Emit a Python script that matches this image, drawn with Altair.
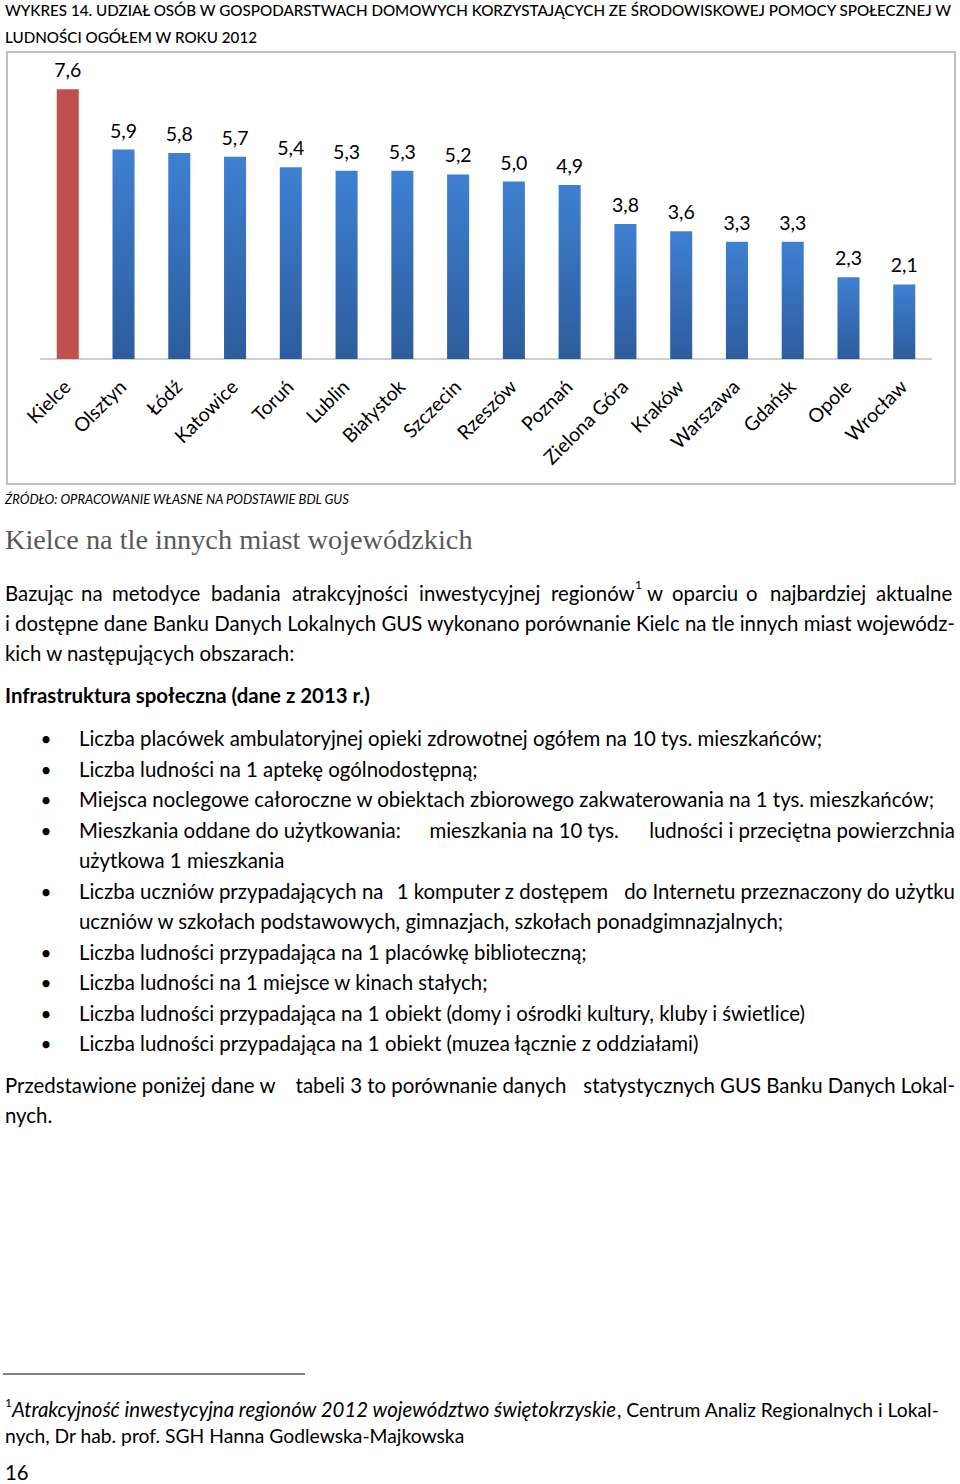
import altair as alt
import pandas as pd

# ---------------- data ----------------
cities = ["Kielce", "Olsztyn", "Łódź", "Katowice", "Toruń", "Lublin", "Białystok",
          "Szczecin", "Rzeszów", "Poznań", "Zielona Góra", "Kraków", "Warszawa",
          "Gdańsk", "Opole", "Wrocław"]
values = [7.6, 5.9, 5.8, 5.7, 5.4, 5.3, 5.3, 5.2, 5.0, 4.9, 3.8, 3.6, 3.3, 3.3, 2.3, 2.1]
highlight = ["Kielce"]

title_lines = [
    "WYKRES 14. UDZIAŁ OSÓB W GOSPODARSTWACH DOMOWYCH KORZYSTAJĄCYCH ZE ŚRODOWISKOWEJ POMOCY SPOŁECZNEJ W",
    "LUDNOŚCI OGÓŁEM W ROKU 2012",
]
source_text = "ŹRÓDŁO: OPRACOWANIE WŁASNE NA PODSTAWIE BDL GUS"
heading_text = "Kielce na tle innych miast wojewódzkich"
para1_first = "Bazując na metodyce badania atrakcyjności inwestycyjnej regionów w oparciu o najbardziej aktualne"
para1_rest = [
    "i dostępne dane Banku Danych Lokalnych GUS wykonano porównanie Kielc na tle innych miast wojewódz-",
    "kich w następujących obszarach:",
]
bold_heading = "Infrastruktura społeczna (dane z 2013 r.)"
bullets = [
    ["Liczba placówek ambulatoryjnej opieki zdrowotnej ogółem na 10 tys. mieszkańców;"],
    ["Liczba ludności na 1 aptekę ogólnodostępną;"],
    ["Miejsca noclegowe całoroczne w obiektach zbiorowego zakwaterowania na 1 tys. mieszkańców;"],
    ["Mieszkania oddane do użytkowania: mieszkania na 10 tys. ludności i przeciętna powierzchnia",
     "użytkowa 1 mieszkania"],
    ["Liczba uczniów przypadających na 1 komputer z dostępem do Internetu przeznaczony do użytku",
     "uczniów w szkołach podstawowych, gimnazjach, szkołach ponadgimnazjalnych;"],
    ["Liczba ludności przypadająca na 1 placówkę biblioteczną;"],
    ["Liczba ludności na 1 miejsce w kinach stałych;"],
    ["Liczba ludności przypadająca na 1 obiekt (domy i ośrodki kultury, kluby i świetlice)"],
    ["Liczba ludności przypadająca na 1 obiekt (muzea łącznie z oddziałami)"],
]
para2 = [
    "Przedstawione poniżej dane w tabeli 3 to porównanie danych statystycznych GUS Banku Danych Lokal-",
    "nych.",
]
footnote_italic = "Atrakcyjność inwestycyjna regionów 2012 województwo świętokrzyskie"
footnote_regular = ", Centrum Analiz Regionalnych i Lokal-"
footnote_line2 = "nych, Dr hab. prof. SGH Hanna Godlewska-Majkowska"
page_number = "16"

# ---------------- layout ----------------
# word starts of the strongly stretched first line
PARA1_WORD_X = [5, 81, 112, 211, 292, 419, 551, 647, 672, 746, 770, 876]
# lines justified to the right margin (split into three pieces), with a nudge
# for the middle piece
JUSTIFIED = {bullets[3][0]: 12, bullets[4][0]: 0, para2[0]: 0}
RIGHT = 955

# ---------------- chart ----------------
df = pd.DataFrame({
    "city": cities,
    "value": values,
    "label": [f"{v:.1f}".replace(".", ",") for v in values],
})

BODY = "Lato"
BODY_SIZE = 20.4
xenc = alt.X("city:N", sort=cities, axis=None,
             scale=alt.Scale(range=[40, 932], paddingInner=0.605, paddingOuter=0.3))
yenc = alt.Y("value:Q", axis=None, scale=alt.Scale(domain=[0, 8], range=[359, 75]))

base = alt.Chart(df)

blue_grad = {
    "gradient": "linear", "x1": 0, "y1": 0, "x2": 0, "y2": 1,
    "stops": [{"offset": 0, "color": "#3E80D2"}, {"offset": 1, "color": "#2D5C9C"}],
}

bars_blue = base.transform_filter(
    alt.FieldOneOfPredicate(field="city", oneOf=cities[1:])
).mark_bar(color=blue_grad).encode(x=xenc, y=yenc)
bars_red = base.transform_filter(
    alt.FieldOneOfPredicate(field="city", oneOf=highlight)
).mark_bar(color="#C0504D").encode(x=xenc, y=yenc)

value_labels = base.mark_text(font=BODY, fontSize=19.5, baseline="alphabetic", dy=-12,
                              color="#000000").encode(x=xenc, y=yenc, text="label:N")

city_labels = base.mark_text(font=BODY, fontSize=19.5, angle=315, align="right",
                             baseline="middle", color="#000000").encode(
    x=xenc, y=alt.value(384), text="city:N")

frame = alt.Chart(pd.DataFrame({"a": [0]})).mark_rect(
    fill="transparent", stroke="#BFBFBF", strokeWidth=2).encode(
    x=alt.value(7), x2=alt.value(955), y=alt.value(52), y2=alt.value(484))

baseline_rule = alt.Chart(pd.DataFrame({"a": [0]})).mark_rule(
    color="#BFBFBF", strokeWidth=1.5).encode(
    x=alt.value(40), x2=alt.value(932), y=alt.value(359))

footnote_rule = alt.Chart(pd.DataFrame({"a": [0]})).mark_rule(
    color="#000000", strokeWidth=1).encode(
    x=alt.value(3), x2=alt.value(305), y=alt.value(1374))


def txt(s, x, y, size=BODY_SIZE, font=BODY, weight="normal", style="normal",
        color="#000000", align="left"):
    return alt.Chart(pd.DataFrame({"t": [s]})).mark_text(
        font=font, fontSize=size, fontWeight=weight, fontStyle=style,
        color=color, align=align, baseline="middle").encode(
        text="t:N", x=alt.value(x), y=alt.value(y))


def line(s, x0, y):
    if s not in JUSTIFIED:
        return [txt(s, x0, y)]
    words = s.split(" ")
    n = len(words)
    a, b = n // 3, 2 * n // 3
    left = " ".join(words[:a])
    mid = " ".join(words[a:b])
    right = " ".join(words[b:])
    frac = (len(left) + 1 + len(mid) / 2) / len(s)
    return [txt(left, x0, y),
            txt(mid, x0 + (RIGHT - x0) * frac + JUSTIFIED[s], y, align="center"),
            txt(right, RIGHT, y, align="right")]


layers = [frame, baseline_rule, bars_red, bars_blue, value_labels, city_labels]

layers.append(txt(title_lines[0], 5, 11, size=15.2, weight=500))
layers.append(txt(title_lines[1], 5, 38, size=15.2, weight=500))
layers.append(txt(source_text, 5, 500, size=13, style="italic"))
layers.append(txt(heading_text, 5, 541, size=28.3, font="Liberation Serif", color="#595959"))

for w, wx in zip(para1_first.split(" "), PARA1_WORD_X):
    layers.append(txt(w, wx, 595))
layers.append(txt("1", 635, 585, size=12))
for i, ln in enumerate(para1_rest):
    layers.extend(line(ln, 5, 625 + 30 * i))
layers.append(txt(bold_heading, 5, 697, weight="bold"))

y = 740
for item in bullets:
    layers.append(txt("•", 46, y, size=19, align="center"))
    for ln in item:
        layers.extend(line(ln, 79, y))
        y += 30.5

for i, ln in enumerate(para2):
    layers.extend(line(ln, 5, 1087 + 30 * i))

layers.append(footnote_rule)
layers.append(txt("1", 5, 1403, size=12))
layers.append(txt(footnote_italic, 12, 1411, style="italic"))
layers.append(txt(footnote_regular, 617, 1411, size=19.3))
layers.append(txt(footnote_line2, 5, 1437, size=19.3))
layers.append(txt(page_number, 5, 1474))

chart = alt.layer(*layers).properties(
    width=960, height=1484, padding=0,
    autosize=alt.AutoSizeParams(type="none"),
    background="#FFFFFF",
).configure_view(strokeWidth=0)

chart.save("out.html", embed_options={"renderer": "svg", "actions": False})
